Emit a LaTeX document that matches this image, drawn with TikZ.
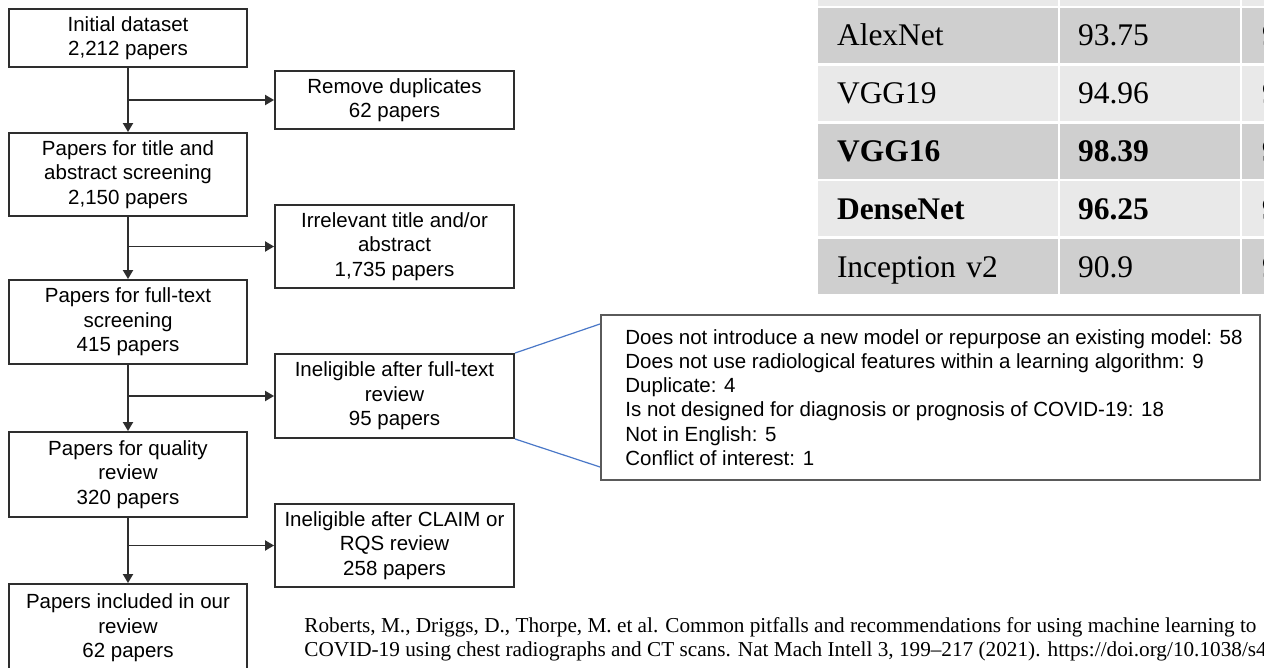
\documentclass[tikz,border=0pt]{standalone}
\usepackage{fontspec}
\setmainfont{Liberation Serif}
\newfontfamily\flowfont{Liberation Sans}
\usetikzlibrary{arrows.meta,calc}
\definecolor{boxline}{HTML}{2E2E2E}
\definecolor{calloutline}{HTML}{5A5A5A}
\definecolor{linkblue}{HTML}{4A78C8}
\definecolor{rowdark}{HTML}{CFCFCF}
\definecolor{rowlight}{HTML}{E9E9E9}

\begin{document}
\begin{tikzpicture}[x=0.5pt,y=-0.5pt,
  stage/.style={draw=boxline, line width=0.95pt, minimum width=119pt,
    inner sep=0pt, align=center,
    font=\flowfont\fontsize{10.25pt}{12.25pt}\selectfont},
  excluded/.style={stage, minimum width=119.5pt},
  flow/.style={draw=boxline, line width=0.95pt,
    -{Triangle[length=4.5pt,width=5pt]}},
  link/.style={draw=linkblue, line width=0.6pt},
  cell/.style={inner xsep=#1, inner ysep=0pt, align=left,
    text height=10.4pt, text depth=0pt, minimum height=27.5pt,
    font=\fontsize{15.75pt}{18pt}\selectfont},
  namecell/.style={cell=9.5pt, text width=101pt},
  valcell/.style={cell=9pt, text width=72pt},
  restcell/.style={cell=10pt, text width=24pt},
  cite/.style={align=left, inner sep=0pt,
    font=\fontsize{10.62pt}{11.6pt}\selectfont}]

\clip (0,0) rectangle (1264,668);
\fill[white] (0,0) rectangle (1264,668);

% ---------------- selection flow ----------------
\node[stage, minimum height=29pt]   (b1) at (128,38)    {Initial dataset\\2,212 papers};
\node[stage, minimum height=41.5pt] (b2) at (128,174.5) {Papers for title and\\abstract screening\\2,150 papers};
\node[stage, minimum height=42pt]   (b3) at (128,322)   {Papers for full-text\\screening\\415 papers};
\node[stage, minimum height=42.5pt] (b4) at (128,474.5) {Papers for quality\\review\\320 papers};
\node[stage, minimum height=44pt]   (b5) at (128,628)   {Papers included in our\\review\\62 papers};

\node[excluded, minimum height=29pt]   (r1) at (394.5,100)   {Remove duplicates\\62 papers};
\node[excluded, minimum height=41.5pt] (r2) at (394.5,246.5) {Irrelevant title and/or\\abstract\\1,735 papers};
\node[excluded, minimum height=42pt]   (r3) at (394.5,396)   {Ineligible after full-text\\review\\95 papers};
\node[excluded, minimum height=41.5pt] (r4) at (394.5,545.5) {Ineligible after CLAIM or\\RQS review\\258 papers};

\draw[flow] (b1.south) -- (b2.north);
\draw[flow] (b2.south) -- (b3.north);
\draw[flow] (b3.south) -- (b4.north);
\draw[flow] (b4.south) -- (b5.north);

\draw[flow] (b1.south |- r1.west) -- (r1.west);
\draw[flow] (b2.south |- r2.west) -- (r2.west);
\draw[flow] (b3.south |- r3.west) -- (r3.west);
\draw[flow] (b4.south |- r4.west) -- (r4.west);

% ---------------- reasons for full-text exclusion ----------------
\node[draw=calloutline, line width=1pt, minimum width=329.5pt,
      minimum height=82.5pt, inner sep=0pt] (callout) at (930.5,397.5) {};
\node[anchor=west, align=left, inner sep=0pt,
      font=\flowfont\fontsize{10.25pt}{12.1pt}\selectfont] (reasons) at (625,397.5)
  {Does not introduce a new model or repurpose an existing model: 58\\
   Does not use radiological features within a learning algorithm: 9\\
   Duplicate: 4\\
   Is not designed for diagnosis or prognosis of COVID-19: 18\\
   Not in English: 5\\
   Conflict of interest: 1};
\coordinate (cTop) at ($(callout.north west)+(0,10)$);
\coordinate (cBot) at ($(callout.south west)+(0,-14)$);
\draw[link] (r3.north east) -- (cTop);
\draw[link] (r3.south east) -- (cBot);

% ---------------- accuracy table ----------------
\node[namecell, fill=rowlight] (t0a) at (938,-21.5) {};
\node[valcell,  fill=rowlight] (t0b) at (1150,-21.5) {};
\node[restcell, fill=rowlight] (t0c) at (1286,-21.5) {};

\node[namecell, fill=rowdark] (t1a) at (938,35.5)  {AlexNet};
\node[valcell,  fill=rowdark] (t1b) at (1150,35.5) {93.75};
\node[restcell, fill=rowdark] (t1c) at (1286,35.5) {9};

\node[namecell, fill=rowlight] (t2a) at (938,93.3)  {VGG19};
\node[valcell,  fill=rowlight] (t2b) at (1150,93.3) {94.96};
\node[restcell, fill=rowlight] (t2c) at (1286,93.3) {9};

\node[namecell, fill=rowdark] (t3a) at (938,151.1)  {\bfseries VGG16};
\node[valcell,  fill=rowdark] (t3b) at (1150,151.1) {\bfseries 98.39};
\node[restcell, fill=rowdark] (t3c) at (1286,151.1) {\bfseries 9};

\node[namecell, fill=rowlight] (t4a) at (938,208.9)  {\bfseries DenseNet};
\node[valcell,  fill=rowlight] (t4b) at (1150,208.9) {\bfseries 96.25};
\node[restcell, fill=rowlight] (t4c) at (1286,208.9) {\bfseries 9};

\node[namecell, fill=rowdark] (t5a) at (938,266.7)  {Inception v2};
\node[valcell,  fill=rowdark] (t5b) at (1150,266.7) {90.9};
\node[restcell, fill=rowdark] (t5c) at (1286,266.7) {9};

% ---------------- reference (anchored on its last line) ----------------
\node[cite, anchor=base west] (citation) at (304,656)
  {Roberts, M., Driggs, D., Thorpe, M. et al. Common pitfalls and recommendations for using machine learning to\\
   COVID-19 using chest radiographs and CT scans. Nat Mach Intell 3, 199--217 (2021). https://doi.org/10.1038/s4};
\end{tikzpicture}
\end{document}
